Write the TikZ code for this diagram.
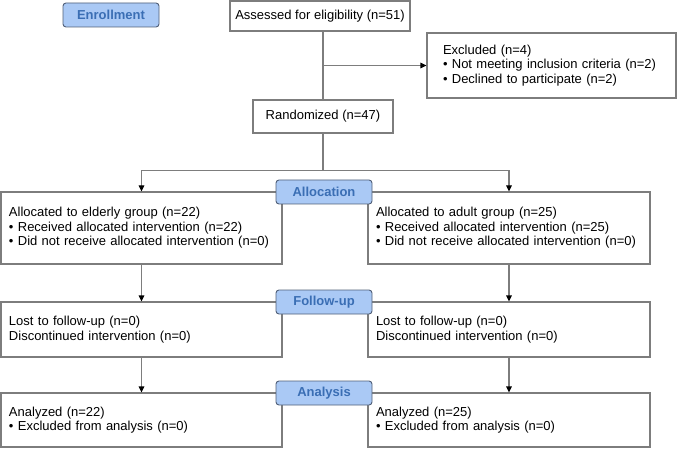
\documentclass[tikz,border=0pt]{standalone}
\usepackage{fontspec}
\setmainfont{Liberation Sans}
\usetikzlibrary{arrows.meta,calc}
\definecolor{linegray}{RGB}{125,125,125}
\definecolor{labelfill}{RGB}{170,201,245}
\definecolor{labeldraw}{RGB}{80,95,120}
\definecolor{labeltext}{RGB}{58,110,180}
\begin{document}
\begin{tikzpicture}[x=1pt,y=-1pt,
  every node/.style={font=\fontsize{13}{14.5}\selectfont},
  box/.style={draw=linegray,line width=1.1pt,fill=white,inner ysep=0pt,inner xsep=8pt,align=left},
  cbox/.style={draw=linegray,line width=1.1pt,fill=white,inner sep=0pt,align=center},
  stagelabel/.style={draw=labeldraw,line width=0.9pt,fill=labelfill,rounded corners=3pt,
     minimum width=96pt,minimum height=24pt,inner sep=0pt,
     font=\fontsize{13}{15}\selectfont\bfseries,text=labeltext},
  conn/.style={draw=linegray,line width=1.1pt},
  arr/.style={conn,-{Triangle[length=6pt,width=5.5pt,fill=black,color=black]}}
]
\useasboundingbox (0,0) rectangle (677,449);

% enrollment
\node[cbox,minimum width=180pt,minimum height=30pt] (assess) at (320,16) {Assessed for eligibility (n=51)};
\node[box,inner xsep=16pt,text width=217pt,minimum height=65pt] (excl) at (551.5,65.5)
  {Excluded (n=4)\\\textbullet\ Not meeting inclusion criteria (n=2)\\\textbullet\ Declined to participate (n=2)};
\node[cbox,minimum width=140pt,minimum height=33pt] (rand) at (323,116.5) {Randomized (n=47)};

% allocation
\node[box,text width=265pt,minimum height=72pt] (allocL) at (141.5,228)
  {Allocated to elderly group (n=22)\\\textbullet\ Received allocated intervention (n=22)\\\textbullet\ Did not receive allocated intervention (n=0)};
\node[box,text width=266pt,minimum height=72pt] (allocR) at (509,228)
  {Allocated to adult group (n=25)\\\textbullet\ Received allocated intervention (n=25)\\\textbullet\ Did not receive allocated intervention (n=0)};

% follow-up
\node[box,text width=265pt,minimum height=55pt] (followL) at (141.5,329.5)
  {Lost to follow-up (n=0)\\Discontinued intervention (n=0)};
\node[box,text width=266pt,minimum height=55pt] (followR) at (509,329.5)
  {Lost to follow-up (n=0)\\Discontinued intervention (n=0)};

% analysis
\node[box,text width=265pt,minimum height=54pt] (anaL) at (141.5,420)
  {Analyzed (n=22)\\\textbullet\ Excluded from analysis (n=0)};
\node[box,text width=266pt,minimum height=54pt] (anaR) at (509,420)
  {Analyzed (n=25)\\\textbullet\ Excluded from analysis (n=0)};

% connectors
\draw[conn] (rand.north |- assess.south) -- (rand.north);
\draw[arr] (rand.north |- excl.west) -- (excl.west);
\draw[conn] (rand.south) -- ++(0,37) coordinate (split);
\draw[arr] (split) -| (allocL.north);
\draw[arr] (split) -| (allocR.north);
\draw[arr] (allocL.south) -- (followL.north);
\draw[arr] (allocR.south) -- (followR.north);
\draw[arr] (followL.south) -- (anaL.north);
\draw[arr] (followR.south) -- (anaR.north);

% stage labels
\node[stagelabel] (enroll) at (111,15) {Enrollment};
\node[stagelabel] (allocation) at (324,192) {Allocation};
\node[stagelabel] (followup) at (324,302) {Follow-up};
\node[stagelabel] (analysis) at (324,393) {Analysis};
\end{tikzpicture}
\end{document}
